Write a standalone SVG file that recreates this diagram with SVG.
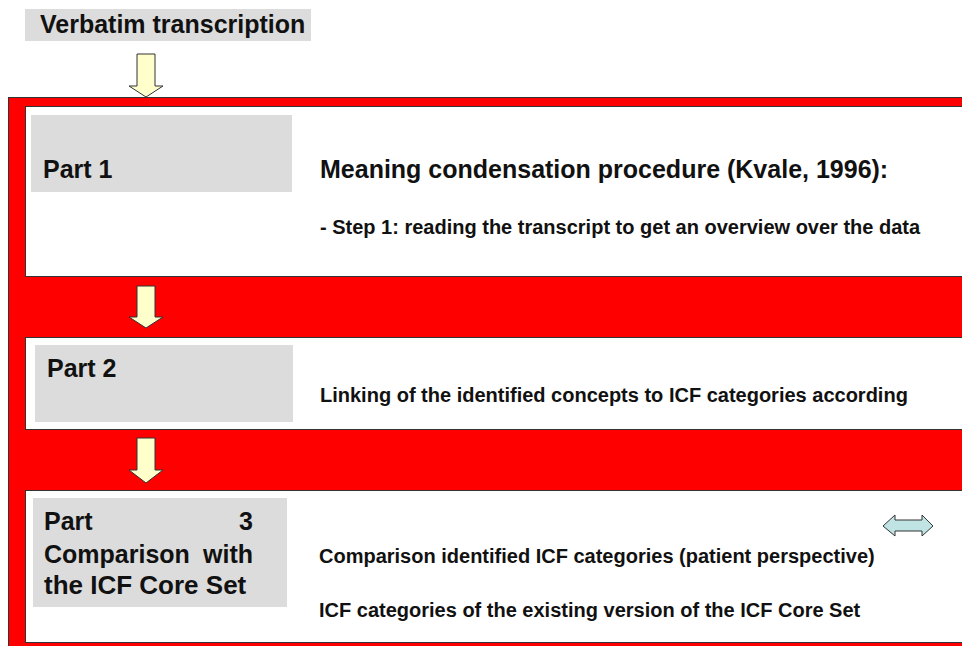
<svg xmlns="http://www.w3.org/2000/svg" width="962" height="646" viewBox="0 0 962 646">
  <style>
    .lbl { font-family: "Liberation Sans", Arial, sans-serif; font-weight: bold; fill: #111; }
    .big { font-size: 25px; }
    .mid { font-size: 26px; }
    .small { font-size: 20px; }
    .gray { fill: #dcdcdc; }
    .panel { fill: #ffffff; stroke: #333; stroke-width: 1; }
    .down { fill: #ffffcc; stroke: #333; stroke-width: 1; stroke-linejoin: miter; }
  </style>

  <rect width="962" height="646" fill="#ffffff"/>

  <!-- source node -->
  <g id="verbatim">
    <rect class="gray" x="25" y="9" width="286" height="32"/>
    <text class="lbl big" x="40" y="33">Verbatim transcription</text>
  </g>

  <!-- red frame holding the three parts -->
  <g id="frame">
    <rect x="8.5" y="97.5" width="970" height="560" fill="#ff0000" stroke="#333" stroke-width="1"/>
  </g>

  <g id="part1">
    <rect class="panel" x="25.5" y="106.5" width="950" height="170"/>
    <rect class="gray" x="31" y="115" width="261" height="77"/>
    <text class="lbl big" x="43" y="178">Part 1</text>
    <text class="lbl big" x="320" y="178">Meaning condensation procedure (Kvale, 1996):</text>
    <text class="lbl small" x="320" y="234">- Step 1: reading the transcript to get an overview over the data</text>
  </g>

  <g id="part2">
    <rect class="panel" x="25.5" y="337.5" width="950" height="92"/>
    <rect class="gray" x="35" y="345" width="258" height="77"/>
    <text class="lbl big" x="47" y="377">Part 2</text>
    <text class="lbl small" x="320" y="402">Linking of the identified concepts to ICF categories according</text>
  </g>

  <g id="part3">
    <rect class="panel" x="25.5" y="490.5" width="950" height="152"/>
    <rect class="gray" x="33" y="498" width="254" height="109"/>
    <!-- justified label: first words flush left, last words flush right -->
    <text class="lbl big" x="44" y="530">Part</text>
    <text class="lbl big" x="253" y="530" text-anchor="end">3</text>
    <text class="lbl big" x="44" y="563">Comparison</text>
    <text class="lbl big" x="253" y="563" text-anchor="end">with</text>
    <text class="lbl mid" x="44" y="594">the ICF Core Set</text>
    <text class="lbl small" x="319" y="563">Comparison identified ICF categories (patient perspective)</text>
    <text class="lbl small" x="319" y="617">ICF categories of the existing version of the ICF Core Set</text>
  </g>

  <!-- connectors -->
  <g id="connectors">
    <path class="down" d="M137,54 H155 V86 H163 L146,97 L129,86 H137 Z"/>
    <path class="down" d="M137,286 H155 V317 H163 L146,328 L129,317 H137 Z"/>
    <path class="down" d="M137,438 H155 V470 H163 L146,483 L129,470 H137 Z"/>
    <path d="M883,526 L895,515 V520 H922 V515 L933,526 L922,536 V531 H895 V536 Z" fill="#c0e4e4" stroke="#333" stroke-width="1"/>
  </g>
</svg>
